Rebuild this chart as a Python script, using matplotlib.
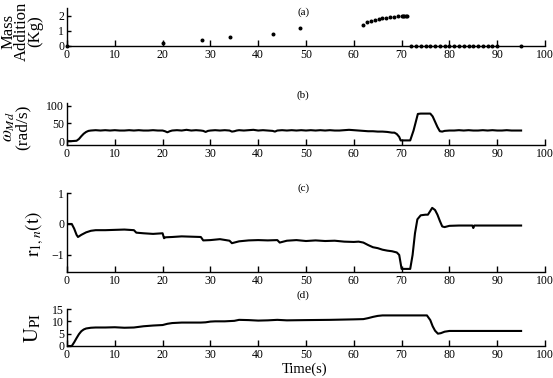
import matplotlib
matplotlib.use("Agg")
import matplotlib.pyplot as plt

plt.rcParams['font.family'] = ['Liberation Serif', 'DejaVu Serif']
plt.rcParams['mathtext.fontset'] = 'stix'

# (a) mass addition scatter
mass_t = [0, 20, 28.3, 34, 43, 48.8,
          62, 62.8, 63.6, 64.4, 65.2, 66, 66.8, 67.6, 68.4, 69.2, 70, 70.3, 70.6, 70.9, 71.2,
          72, 73, 74, 75, 76, 77, 78, 79, 80, 81, 82, 83, 84, 85, 86, 87, 88, 89, 90, 95]
mass_v = [0, 0.2, 0.4, 0.6, 0.8, 1.2,
          1.35, 1.55, 1.65, 1.72, 1.78, 1.83, 1.87, 1.9, 1.93, 1.96, 1.98, 2.0, 2.0, 2.0, 2.0,
          0, 0, 0, 0, 0, 0, 0, 0, 0, 0, 0, 0, 0, 0, 0, 0, 0, 0, 0, 0]

# (b) omega_Md
w_t = [0, 1, 2, 2.5, 3, 3.5, 4, 4.5, 5, 6, 7, 8, 9, 10, 11, 12, 13, 14, 15, 16, 17, 18, 19, 20,
       20.5, 21, 21.5, 22, 23, 24, 25, 26, 27, 28, 28.5, 29, 29.5, 30, 31, 32, 33, 34, 34.5, 35,
       35.5, 36, 37, 38, 39, 40, 41, 42, 43, 43.5, 44, 45, 46, 47, 48, 49, 50, 51, 52, 53, 54,
       55, 56, 57, 58, 59, 60, 61, 62, 63, 64, 65, 66, 67, 67.5, 68, 68.5, 69, 69.5, 69.8, 71,
       71.8, 72.5, 73.4, 74, 75, 76, 76.5, 77, 77.5, 78, 78.5, 79, 80, 81, 82, 83, 84, 85, 86,
       87, 88, 89, 90, 91, 92, 93, 94, 95]
w_v = [0, 0, 1, 6, 14, 21, 26, 29, 30, 31, 30, 31, 30, 31, 30, 30, 31, 30, 31, 30, 30, 31, 30, 30,
       28, 25, 28, 30, 31, 30, 32, 30, 31, 30, 29, 26, 29, 30, 31, 30, 31, 30, 27, 28,
       30, 31, 30, 31, 32, 30, 31, 30, 29, 27, 30, 31, 30, 31, 30, 31, 30, 31, 30, 31, 30,
       31, 30, 30, 31, 32, 31, 30, 29, 28, 28, 27, 27, 26, 25, 24, 24, 20, 12, 2, 2,
       2, 30, 77, 78, 78, 78, 70, 55, 40, 28, 27, 29, 30, 30, 31, 30, 31, 30, 30,
       31, 30, 31, 30, 30, 31, 30, 30, 30]

# (c) r_{1,n}(t)
r_t = [0, 1, 1.5, 2, 2.3, 3, 4, 5, 6, 8, 10, 12, 14, 14.5, 16, 18, 20, 20.3, 20.6, 22, 24, 26,
       28, 28.5, 30, 32, 34, 34.5, 36, 38, 40, 42, 44, 44.5, 46, 48, 50, 52, 54, 56, 58, 60,
       61, 62, 63, 64, 65, 66, 67, 68, 69, 69.5, 70, 71, 71.8, 72.3, 72.8, 73.3, 74, 75, 75.5,
       76, 76.4, 77, 77.5, 78, 78.5, 79, 80, 82, 84, 84.8, 85, 85.2, 87, 90, 92, 95]
r_v = [0, 0, -0.15, -0.35, -0.42, -0.35, -0.27, -0.22, -0.2, -0.2, -0.19, -0.18, -0.2, -0.28,
       -0.3, -0.32, -0.3, -0.46, -0.43, -0.42, -0.4, -0.41, -0.42, -0.53, -0.52, -0.49, -0.54,
       -0.62, -0.56, -0.53, -0.52, -0.53, -0.52, -0.6, -0.54, -0.52, -0.55, -0.53, -0.55, -0.54,
       -0.57, -0.58, -0.57, -0.6, -0.68, -0.75, -0.78, -0.83, -0.86, -0.88, -0.92, -1.0, -1.45,
       -1.45, -1.45, -1.0, -0.3, 0.15, 0.28, 0.3, 0.3, 0.42, 0.52, 0.45, 0.3, 0.1, -0.08,
       -0.1, -0.06, -0.05, -0.05, -0.05, -0.13, -0.05, -0.05, -0.05, -0.05, -0.05]

# (d) U_PI
u_t = [0, 1, 1.5, 2, 2.5, 3, 3.5, 4, 5, 6, 8, 10, 12, 14, 16, 18, 20, 21, 22, 24, 26, 28, 29,
       30, 31, 33, 35, 36, 38, 40, 42, 44, 46, 50, 55, 60, 62, 63, 64, 65, 66, 70, 74, 75.3, 76,
       76.5, 77, 77.6, 78.2, 79, 80, 85, 90, 95]
u_v = [0, 0, 1.5, 3.2, 4.8, 6.0, 6.7, 7.1, 7.4, 7.5, 7.5, 7.6, 7.4, 7.5, 8.0, 8.3, 8.5, 9.0,
       9.3, 9.5, 9.5, 9.5, 9.6, 9.9, 10.0, 10.0, 10.2, 10.6, 10.5, 10.3, 10.4, 10.6, 10.4, 10.5,
       10.6, 10.8, 10.9, 11.3, 11.8, 12.2, 12.4, 12.4, 12.4, 12.4, 10.5, 8.0, 6.2, 5.0, 5.2,
       5.8, 6.1, 6.1, 6.1, 6.1]

W, H = 553, 378
fig = plt.figure(figsize=(W / 100, H / 100), dpi=100)

def make_ax(top_px, bot_px):
    left = 67 / W
    width = (545 - 67) / W
    return fig.add_axes([left, 1 - bot_px / H, width, (bot_px - top_px) / H])

axa = make_ax(8, 46)
axb = make_ax(103, 145)
axc = make_ax(193, 272)
axd = make_ax(309, 346)

for ax in (axa, axb, axc, axd):
    ax.spines['top'].set_visible(False)
    ax.spines['right'].set_visible(False)
    ax.spines['left'].set_linewidth(1.0)
    ax.spines['bottom'].set_linewidth(1.0)
    ax.set_xlim(0, 100)
    ax.set_xticks(range(0, 101, 10))
    ax.tick_params(direction='in', length=4, width=1, labelsize=8.5, pad=2)
    ax.tick_params(axis='y', length=3, pad=2)

axa.scatter(mass_t, mass_v, s=3.5, color='black', zorder=3, clip_on=False)
axa.set_ylim(0, 2.5)
axa.set_yticks([0, 1, 2])

axb.plot(w_t, w_v, color='black', lw=1.5)
axb.set_ylim(-11, 108)
axb.set_yticks([0, 50, 100])

axc.plot(r_t, r_v, color='black', lw=1.5)
axc.set_ylim(-1.55, 1.0)
axc.set_yticks([-1, 0, 1])

axd.plot(u_t, u_v, color='black', lw=1.5)
axd.set_ylim(0, 15)
axd.set_yticks([0, 5, 10, 15])

axa.text(49.4, 0.89, '(a)', transform=axa.get_xaxis_transform(), fontsize=8, ha='center', va='center')
axb.text(49.4, 1.19, '(b)', transform=axb.get_xaxis_transform(), fontsize=8, ha='center', va='center')
axc.text(49.4, 1.06, '(c)', transform=axc.get_xaxis_transform(), fontsize=8, ha='center', va='center')
axd.text(49.4, 1.38, '(d)', transform=axd.get_xaxis_transform(), fontsize=8, ha='center', va='center')

fig.text(22 / W, 1 - 31 / H, 'Mass\nAddition\n(Kg)', rotation=90, ha='center', va='center',
         fontsize=12, linespacing=0.78, multialignment='center')
fig.text(16 / W, 1 - 127 / H, '$\\omega_{Md}$\n(rad/s)', rotation=90, ha='center', va='center',
         fontsize=12.5, linespacing=0.85, multialignment='center')
fig.text(35 / W, 1 - 234 / H, '$\\mathrm{r}_{1,n}\\mathrm{(t)}$', rotation=90, ha='center',
         va='center', fontsize=14)
fig.text(33 / W, 1 - 328 / H, '$\\mathrm{U}_{\\mathrm{PI}}$', rotation=90, ha='center',
         va='center', fontsize=15)
fig.text(305 / W, 1 - 369 / H, 'Time(s)', ha='center', va='center', fontsize=10.5)

fig.savefig('out.png', dpi=100)
